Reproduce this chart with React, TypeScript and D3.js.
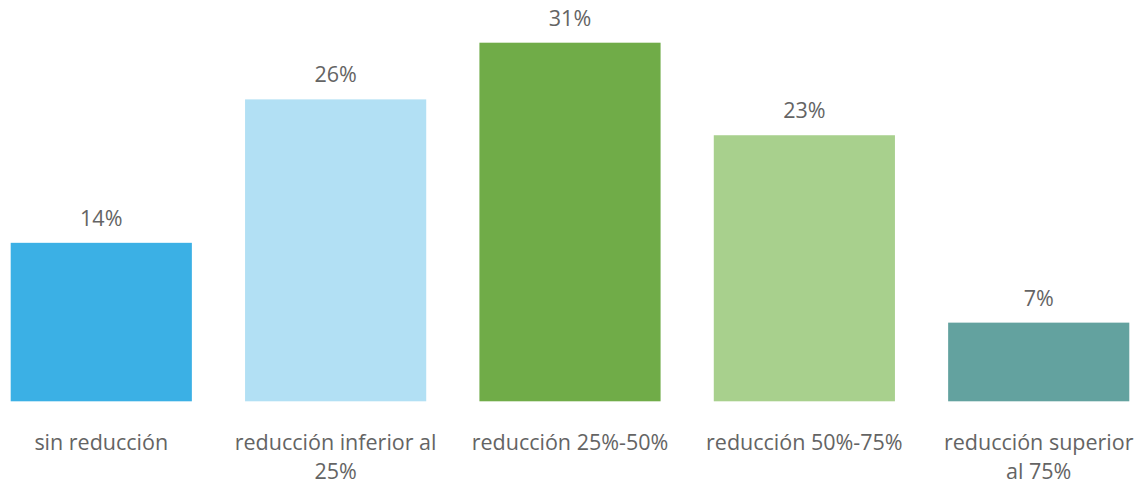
import React from "react";
import * as d3 from "d3";

const categories = [
  "sin reducción",
  "reducción inferior al\n25%",
  "reducción 25%-50%",
  "reducción 50%-75%",
  "reducción superior\nal 75%",
];
const values = [13.7, 26.1, 31.0, 23.0, 6.8];
const colors = ["#3bb0e5", "#b2e0f4", "#70ac48", "#a8d08d", "#63a29f"];

const W = 1146;
const H = 485;

export default function App() {
  const x = d3
    .scaleBand<string>()
    .domain(categories)
    .range([10.7, 1129.3])
    .paddingInner(0.227)
    .paddingOuter(0);
  const y = d3.scaleLinear().domain([0, 31]).range([401.3, 42.7]);
  const font = "'Segoe UI', 'Open Sans', sans-serif";
  return (
    <svg
      width={W}
      height={H}
      style={{ position: "absolute", left: 0, top: 0, background: "#fff" }}
      fontFamily={font}
    >
      {categories.map((c, i) => {
        const bx = x(c)!;
        const bw = x.bandwidth();
        const top = y(values[i]);
        return (
          <g key={c}>
            <rect x={bx} y={top} width={bw} height={y(0) - top} fill={colors[i]} />
            <text
              x={bx + bw / 2}
              y={top - 17}
              textAnchor="middle"
              fontSize={21.5}
              fill="#646464"
            >
              {`${Math.round(values[i])}%`}
            </text>
            {c.split("\n").map((line, j) => (
              <text
                key={j}
                x={bx + bw / 2}
                y={450 + j * 29}
                textAnchor="middle"
                fontSize={21.5}
                fill="#646464"
              >
                {line}
              </text>
            ))}
          </g>
        );
      })}
    </svg>
  );
}
